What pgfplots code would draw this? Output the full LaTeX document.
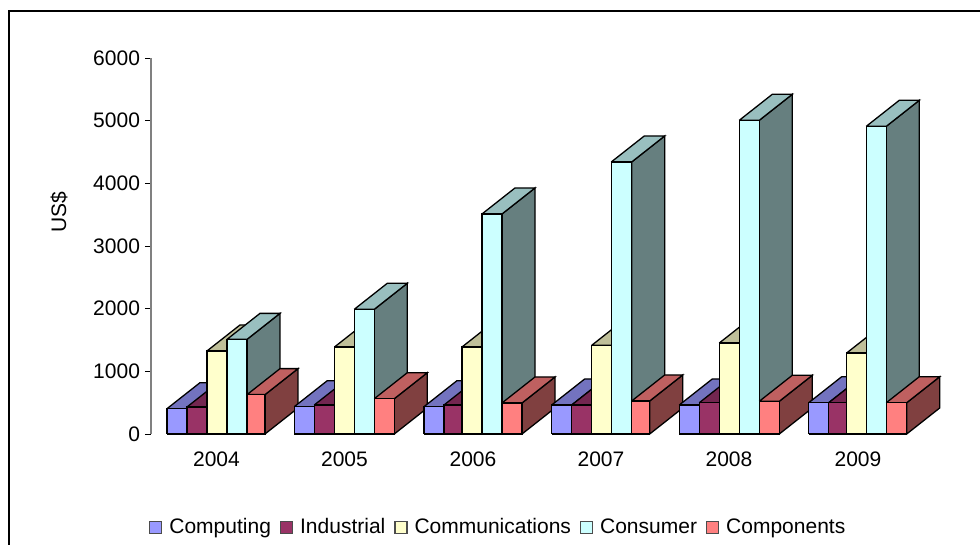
\documentclass[border=0pt]{standalone}
\usepackage{fontspec}
\setmainfont{Liberation Sans}
\usepackage{pgfplots}
\pgfplotsset{compat=1.18}

\definecolor{comp}{HTML}{9999FF}
\definecolor{comptop}{HTML}{7373BF}
\definecolor{compside}{HTML}{4D4D80}
\definecolor{ind}{HTML}{993366}
\definecolor{indtop}{HTML}{732650}
\definecolor{indside}{HTML}{4D1A33}
\definecolor{comm}{HTML}{FFFFCC}
\definecolor{commtop}{HTML}{BFBF99}
\definecolor{commside}{HTML}{808066}
\definecolor{cons}{HTML}{CCFFFF}
\definecolor{constop}{HTML}{99BFBF}
\definecolor{consside}{HTML}{667F7F}
\definecolor{cpt}{HTML}{FF8080}
\definecolor{cpttop}{HTML}{BF6060}
\definecolor{cptside}{HTML}{804040}

% one 3D column: left edge, right edge, value, colour name
% depth of the extrusion is 33 px across and 415 US$ (26 px) up
\newcommand{\column}[4]{%
  \pgfmathsetmacro\xl{#1+33}%
  \pgfmathsetmacro\xr{#2+33}%
  \pgfmathsetmacro\yt{#3+415}%
  \addplot[forget plot,barline,fill=#4side] coordinates {(#2,0) (\xr,415) (\xr,\yt) (#2,#3) (#2,0)};
  \addplot[forget plot,barline,fill=#4top] coordinates {(#1,#3) (\xl,\yt) (\xr,\yt) (#2,#3) (#1,#3)};
  \addplot[forget plot,barline,fill=#4] coordinates {(#1,0) (#1,#3) (#2,#3) (#2,0) (#1,0)};
}
\tikzset{barline/.style={draw=black,line width=1.3pt,line join=miter,mark=none}}

\newcommand{\legsquare}[1]{\addlegendimage{legend image code/.code={\draw[draw=black!70,line width=1.2pt,fill=#1] (0pt,-6pt) rectangle (12pt,6pt);}}}

\begin{document}
\begin{tikzpicture}
\begin{axis}[
  at={(0,0)},anchor=south west,
  scale only axis,width=829pt,height=376pt,
  xmin=151,xmax=980,ymin=0,ymax=6000,
  clip=false,
  axis y line=left,axis x line=bottom,
  axis line style={-},
  y axis line style={draw=gray,line width=1.4pt},
  x axis line style={draw=none},
  xtick={216.5,344.5,473,601,729,858},
  xticklabels={2004,2005,2006,2007,2008,2009},
  ytick={0,1000,2000,3000,4000,5000,6000},
  major x tick style={draw=none},
  major y tick style={draw=black,line width=0.7pt},
  tick align=outside,major tick length=6pt,
  tick label style={font=\fontsize{21}{24}\selectfont},
  /pgf/number format/assume math mode=true,
  /pgf/number format/1000 sep={},
  xticklabel style={yshift=-8pt},
  yticklabel style={xshift=-1.5pt},
  ylabel={US\$},
  every axis y label/.style={at={(axis cs:59,3543)},rotate=90,anchor=center,font=\fontsize{21}{24}\selectfont},
  legend columns=5,
  legend style={at={(axis cs:149,-1486)},anchor=west,draw=none,fill=none,inner sep=0pt,
    font=\fontsize{21}{24}\selectfont,
    /tikz/every odd column/.style={column sep=5pt},
    /tikz/every even column/.style={column sep=7pt}},
  legend cell align=left,
]
% 2004
\column{167}{187}{404}{comp}
\column{187}{207}{431}{ind}
\column{207}{227}{1325}{comm}
\column{227}{247}{1510}{cons}
\column{247}{265}{628}{cpt}
% 2005
\column{294.3}{314.3}{436}{comp}
\column{314.3}{334.5}{463}{ind}
\column{334.5}{354.3}{1388}{comm}
\column{354.3}{374.3}{1990}{cons}
\column{374.3}{394.3}{563}{cpt}
% 2006
\column{424}{444}{436}{comp}
\column{444}{462}{463}{ind}
\column{462}{482}{1388}{comm}
\column{482}{502}{3511}{cons}
\column{502}{522}{495}{cpt}
% 2007
\column{551.7}{571.7}{463}{comp}
\column{571.7}{591.7}{463}{ind}
\column{591.7}{611.3}{1415}{comm}
\column{611.3}{631.7}{4341}{cons}
\column{631.7}{649.7}{527}{cpt}
% 2008
\column{679.3}{699.3}{463}{comp}
\column{699.3}{719.3}{499}{ind}
\column{719.3}{739.3}{1452}{comm}
\column{739.3}{759.3}{5006}{cons}
\column{759.3}{779.3}{522}{cpt}
% 2009
\column{808.7}{828.7}{499}{comp}
\column{828.7}{846.7}{499}{ind}
\column{846.7}{866.3}{1293}{comm}
\column{866.3}{886.3}{4910}{cons}
\column{886.3}{906.7}{499}{cpt}

\legsquare{comp}
\legsquare{ind}
\legsquare{comm}
\legsquare{cons}
\legsquare{cpt}
\legend{Computing,Industrial,Communications,Consumer,Components}
\end{axis}
\draw[line width=2pt] (-141.5pt,-111pt) -- (-141.5pt,423.4pt) -- (829pt,423.4pt);
\pgfresetboundingbox
\useasboundingbox (-151pt,-111pt) rectangle (829pt,434pt);
\end{tikzpicture}
\end{document}
